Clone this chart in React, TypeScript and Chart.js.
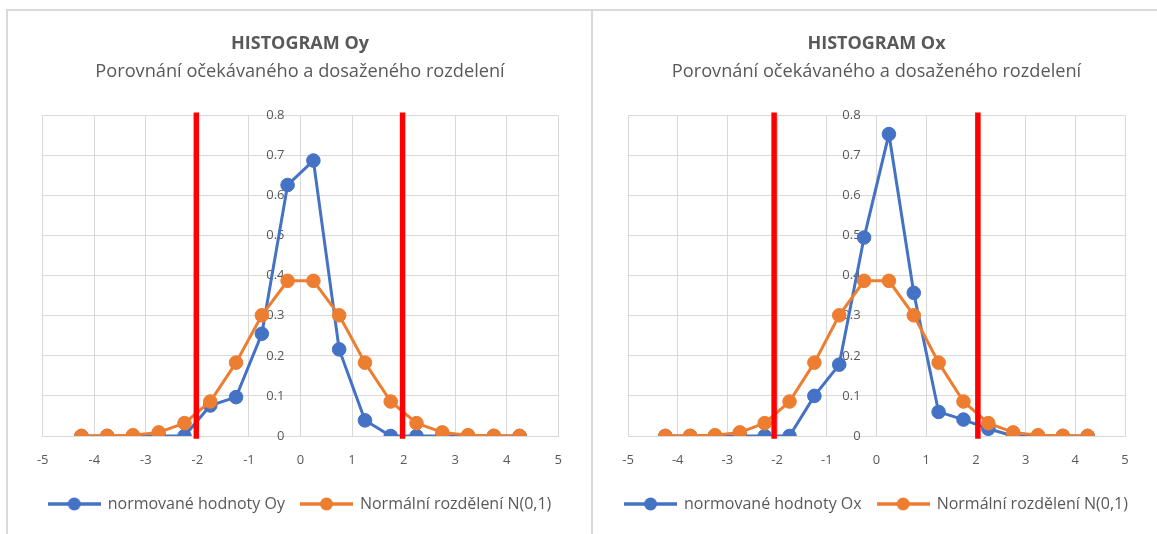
import React, { useEffect, useRef } from 'react';
import { Chart, registerables } from 'chart.js';

Chart.register(...registerables);

// ---- data ----
const binCenters = [-4.25, -3.75, -3.25, -2.75, -2.25, -1.75, -1.25, -0.75, -0.25, 0.25, 0.75, 1.25, 1.75, 2.25, 2.75, 3.25, 3.75, 4.25];
const oyValues = [0, 0, 0, 0, 0, 0.076, 0.097, 0.255, 0.626, 0.687, 0.216, 0.039, 0, 0, 0, 0, 0, 0];
const oxValues = [0, 0, 0, 0, 0, 0, 0.1, 0.178, 0.495, 0.753, 0.357, 0.06, 0.041, 0.018, 0, 0, 0, 0];
const normalValues = [0.0001, 0.0004, 0.002, 0.009, 0.032, 0.086, 0.183, 0.301, 0.387, 0.387, 0.301, 0.183, 0.086, 0.032, 0.009, 0.002, 0.0004, 0.0001];
const oyLimits = [-2.02, 1.98];
const oxLimits = [-2.06, 2.04];
const limitYRange = [0, 0.8];
const xTickLabels = ['-5', '-4', '-3', '-2', '-1', '0', '1', '2', '3', '4', '5'];
const yTickLabels = ['0', '0.1', '0.2', '0.3', '0.4', '0.5', '0.6', '0.7', '0.8'];
const oyTitle = 'HISTOGRAM Oy';
const oxTitle = 'HISTOGRAM Ox';
const subtitleText = 'Porovnání očekávaného a dosaženého rozdelení';
const oySeriesName = 'normované hodnoty Oy';
const oxSeriesName = 'normované hodnoty Ox';
const normalSeriesName = 'Normální rozdělení N(0,1)';

// ---- styles ----
const FONT = "'Open Sans', sans-serif";
const TEXT = '#595959';
const GRID = '#d9d9d9';
const BLUE = '#4472C4';
const ORANGE = '#ED7D31';
const RED = '#FF0000';

function legendIcon(color: string) {
  const c = document.createElement('canvas');
  c.width = 53;
  c.height = 16;
  const ctx = c.getContext('2d')!;
  ctx.strokeStyle = color;
  ctx.lineWidth = 3.5;
  ctx.beginPath();
  ctx.moveTo(0, 8);
  ctx.lineTo(53, 8);
  ctx.stroke();
  ctx.fillStyle = color;
  ctx.beginPath();
  ctx.arc(26.5, 8, 6.5, 0, Math.PI * 2);
  ctx.fill();
  return c;
}

type Props = {
  left: number;
  width: number;
  title: string;
  seriesName: string;
  values: number[];
  limits: number[];
  outerLeft: number;
  plotLeft: number;
  plotRight: number;
  yLabelX: number;
};

function HistogramChart(p: Props) {
  const ref = useRef<HTMLCanvasElement | null>(null);
  useEffect(() => {
    if (!ref.current) return;
    const series = (vals: number[]) => binCenters.map((x, i) => ({ x, y: vals[i] }));
    const limitLine = (x: number) => limitYRange.map((y) => ({ x, y }));
    const colors = [BLUE, ORANGE];
    const chart = new Chart(ref.current, {
      type: 'scatter',
      data: {
        datasets: [
          {
            label: p.seriesName,
            data: series(p.values),
            showLine: true,
            borderColor: BLUE,
            backgroundColor: BLUE,
            borderWidth: 3,
            pointRadius: 6.8,
            pointBorderWidth: 1,
            pointBackgroundColor: BLUE,
            pointBorderColor: BLUE,
            order: 2,
          },
          {
            label: normalSeriesName,
            data: series(normalValues),
            showLine: true,
            borderColor: ORANGE,
            backgroundColor: ORANGE,
            borderWidth: 3,
            pointRadius: 6.8,
            pointBorderWidth: 1,
            pointBackgroundColor: ORANGE,
            pointBorderColor: ORANGE,
            order: 1,
          },
          {
            label: 'limit-low',
            data: limitLine(p.limits[0]),
            showLine: true,
            borderColor: RED,
            borderWidth: 5.5,
            borderCapStyle: 'square',
            pointRadius: 0,
            clip: false,
            order: 0,
          },
          {
            label: 'limit-high',
            data: limitLine(p.limits[1]),
            showLine: true,
            borderColor: RED,
            borderWidth: 5.5,
            borderCapStyle: 'square',
            pointRadius: 0,
            clip: false,
            order: 0,
          },
        ] as any,
      },
      options: {
        responsive: false,
        animation: false,
        devicePixelRatio: 1,
        layout: { padding: { top: 0, left: p.outerLeft, right: 0, bottom: 12 } },
        scales: {
          x: {
            type: 'linear',
            min: -5,
            max: 5,
            ticks: {
              stepSize: 1,
              color: TEXT,
              font: { family: FONT, size: 13 },
              padding: 16,
              callback: (_v: any, i: number) => xTickLabels[i],
            },
            grid: { color: GRID, lineWidth: 1, drawTicks: false },
            border: { display: true, color: GRID },
            afterFit: (scale: any) => {
              scale.height -= 3.6;
              scale.paddingLeft = p.plotLeft;
              scale.paddingRight = p.width - p.plotRight;
            },
          },
          y: {
            type: 'linear',
            min: 0,
            max: 0.8,
            position: { x: p.yLabelX },
            ticks: {
              stepSize: 0.1,
              color: TEXT,
              font: { family: FONT, size: 13 },
              padding: 0,
              callback: (_v: any, i: number) => yTickLabels[i],
            },
            grid: { color: GRID, lineWidth: 1, drawTicks: false },
            border: { display: false },
          },
        } as any,
        plugins: {
          title: {
            display: true,
            text: p.title,
            color: TEXT,
            font: { family: FONT, size: 18, weight: 'bold' },
            padding: { top: 33.2, bottom: 0 },
          },
          subtitle: {
            display: true,
            text: subtitleText,
            color: TEXT,
            font: { family: FONT, size: 18.2, weight: 'normal' },
            padding: { top: 6.1, bottom: 32.5 },
          },
          legend: {
            display: true,
            position: 'bottom',
            labels: {
              usePointStyle: true,
              pointStyleWidth: 51,
              padding: 16,
              color: TEXT,
              font: { family: FONT, size: 16 },
              filter: (item: any) => item.datasetIndex < 2,
              sort: (a: any, b: any) => a.datasetIndex - b.datasetIndex,
              generateLabels: (ch: any) =>
                (Chart.defaults.plugins.legend.labels as any)
                  .generateLabels(ch)
                  .map((it: any) => ({ ...it, pointStyle: legendIcon(colors[it.datasetIndex] || RED), fontColor: TEXT })),
            },
          },
          tooltip: { enabled: false },
        },
      } as any,
    });
    return () => chart.destroy();
  }, []);
  return (
    <canvas
      ref={ref}
      width={p.width}
      height={534}
      style={{ position: 'absolute', left: p.left, top: 0, width: p.width, height: 534 }}
    />
  );
}

export default function App() {
  return (
    <div style={{ position: 'fixed', left: 0, top: 0, width: 1157, height: 534, background: '#fff', overflow: 'hidden' }}>
      <div style={{ position: 'absolute', left: 6, top: 9, width: 587, height: 600, border: `2px solid ${GRID}`, boxSizing: 'border-box' }} />
      <div style={{ position: 'absolute', left: 591, top: 9, width: 700, height: 600, border: `2px solid ${GRID}`, boxSizing: 'border-box' }} />
      <HistogramChart left={0} width={593} title={oyTitle} seriesName={oySeriesName} values={oyValues} limits={oyLimits} outerLeft={7} plotLeft={42.7} plotRight={558.3} yLabelX={-0.31} />
      <HistogramChart left={593} width={564} title={oxTitle} seriesName={oxSeriesName} values={oxValues} limits={oxLimits} outerLeft={3} plotLeft={35} plotRight={532} yLabelX={-0.32} />
    </div>
  );
}
